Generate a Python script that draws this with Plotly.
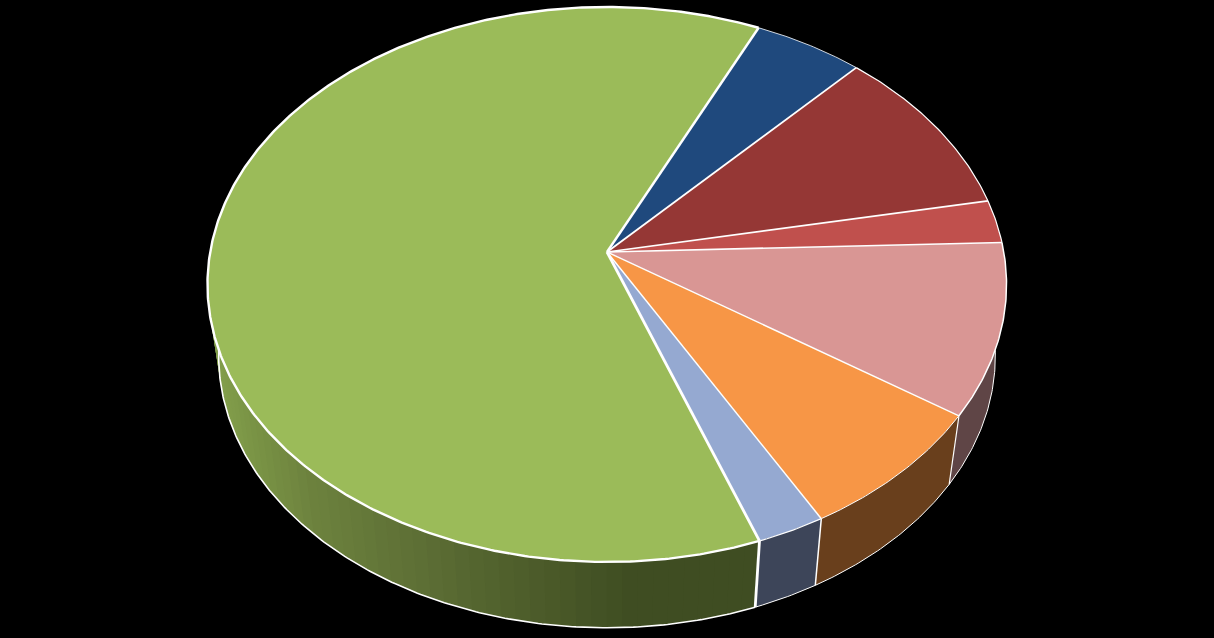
import numpy as np
import plotly.graph_objects as go

# shares of each slice, clockwise, starting from the blue one
slice_values = [5, 10, 2.5, 10, 7.5, 2.5, 62.5]
top_colors = ["#1f497d", "#953735", "#c0504d", "#d99694", "#f79646", "#95a9d1", "#9bbb59"]
side_colors = ["#10253f", "#4b1b1a", "#602827", "#5f4546", "#693f1c", "#3d4559", "#3f4d22"]
rim_widths = [0.8, 1.2, 1.2, 1.5, 1, 1.2, 2.4]
spoke_widths = [2.4, 1.8, 1.7, 1.7, 1.4, 1.5, 2.8]
bottom_widths = [1, 1, 1, 1, 1, 1, 1.6]
start_angle = 25

# the tilted disc, in page pixels
CX, CY = 607.0, 252.0
AX, AY, PERSP = 396.8, 273.7, 0.117
DEPTH_SX, DEPTH_SY, DEPTH_CY = 0.972, 0.98, 324.0

# shading of the green wall along the page
wall_x = [215, 240, 300, 400, 500, 620]
wall_r = [0x82, 0x7b, 0x6d, 0x5e, 0x4f, 0x3f]
wall_g = [0x9e, 0x95, 0x82, 0x70, 0x5f, 0x4d]
wall_b = [0x4b, 0x46, 0x3e, 0x36, 0x2c, 0x22]


def rim(deg, bottom=False):
    t = np.radians(deg)
    u, v = np.sin(t), np.cos(t)
    w = 1 + PERSP * v
    x, y = AX * u / w, -AY * v / w
    if bottom:
        return CX + DEPTH_SX * x, DEPTH_CY + DEPTH_SY * y
    return CX + x, CY + y


def poly(x, y, fill):
    return go.Scatter(
        x=list(x), y=list(y), mode="lines", fill="toself", fillcolor=fill,
        line=dict(color=fill, width=0), hoverinfo="skip", showlegend=False,
    )


def edge(x, y, width):
    return go.Scatter(
        x=list(x), y=list(y), mode="lines", line=dict(color="white", width=width),
        hoverinfo="skip", showlegend=False,
    )


def arc_of(a, b):
    return np.linspace(a, b, max(int(b - a) * 2, 2))


fig = go.Figure()

bounds = start_angle + np.cumsum([0] + slice_values) * 3.6
spans = list(zip(bounds[:-1], bounds[1:]))

# sides first, the top faces cover whatever is at the back
for i, (a, b) in enumerate(spans):
    if top_colors[i] == "#9bbb59":
        # shaded wall, each strip runs on under the next one so no seams show
        for p in arc_of(a, b)[::4]:
            arc = np.array([p, min(p + 6, b)])
            tx, ty = rim(arc)
            bx, by = rim(arc[::-1], bottom=True)
            mid = tx.mean()
            color = "rgb(%d,%d,%d)" % (np.interp(mid, wall_x, wall_r), np.interp(mid, wall_x, wall_g),
                                       np.interp(mid, wall_x, wall_b))
            fig.add_trace(poly(np.r_[tx, bx], np.r_[ty, by], color))
    else:
        arc = arc_of(a, b)
        tx, ty = rim(arc)
        bx, by = rim(arc[::-1], bottom=True)
        fig.add_trace(poly(np.r_[tx, bx], np.r_[ty, by], side_colors[i]))

# white edges of the side wall
for i, (a, b) in enumerate(spans):
    bx, by = rim(arc_of(a, b), bottom=True)
    fig.add_trace(edge(bx, by, bottom_widths[i]))
for k, width in zip([4, 5, 6], [1.2, 1.5, 2.8]):
    tx, ty = rim(bounds[k])
    bx, by = rim(bounds[k], bottom=True)
    fig.add_trace(edge([tx, bx], [ty, by], width))

# top faces
for i, (a, b) in enumerate(spans):
    x, y = rim(arc_of(a, b))
    fig.add_trace(poly(np.r_[CX, x, CX], np.r_[CY, y, CY], top_colors[i]))
for i, (a, b) in enumerate(spans):
    x, y = rim(arc_of(a, b))
    fig.add_trace(edge(x, y, rim_widths[i]))
for k in range(7):
    x, y = rim(bounds[k])
    fig.add_trace(edge([CX, x], [CY, y], spoke_widths[k]))

fig.update_layout(
    width=1214, height=638, margin=dict(l=0, r=0, t=0, b=0),
    paper_bgcolor="black", plot_bgcolor="black", showlegend=False,
    xaxis=dict(range=[0, 1214], visible=False, fixedrange=True),
    yaxis=dict(range=[638, 0], visible=False, fixedrange=True),
)

fig.write_html("out.html", config=dict(displayModeBar=False),
               post_script="document.body.style.margin='0';document.body.style.background='black';")
